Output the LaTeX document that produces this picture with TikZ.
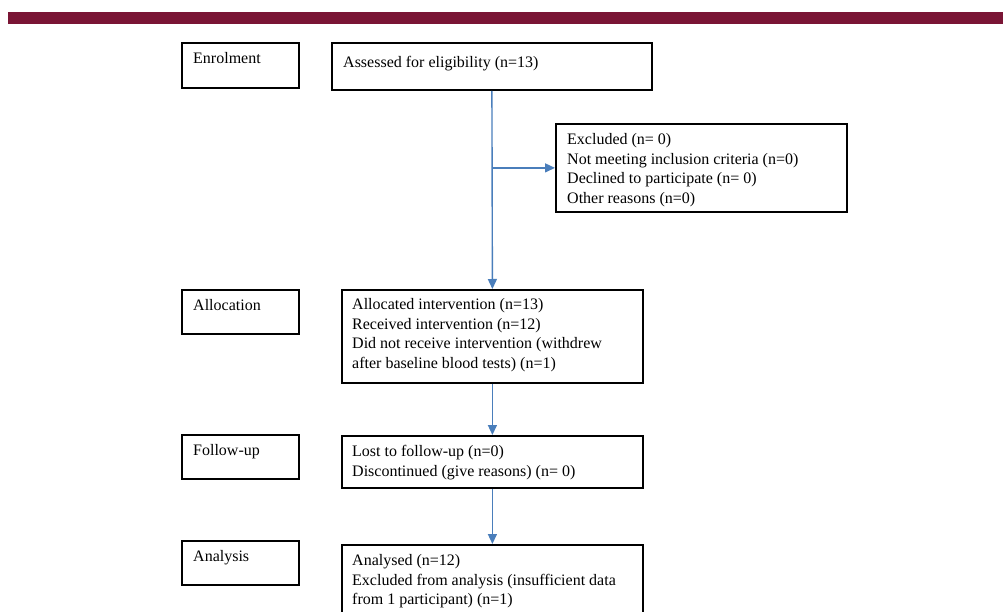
\documentclass[tikz,border=0pt]{standalone}
\usepackage{fontspec}
\setmainfont{Liberation Serif}
\usetikzlibrary{arrows.meta}
\definecolor{barred}{HTML}{7A1535}
\definecolor{arrowblue}{HTML}{4A7EBB}
\begin{document}
\begin{tikzpicture}[x=1pt,y=-1pt,
  box/.style={draw=black, line width=1.8pt, rectangle, inner sep=0pt, anchor=north west},
  txt/.style={anchor=north west, inner sep=0pt, align=left, font=\fontsize{16}{19.5}\selectfont},
  flow/.style={draw=arrowblue, line width=1.4pt, -{Triangle[width=9pt,length=10pt]}}]
\useasboundingbox (0,0) rectangle (1003,612);
\clip (0,0) rectangle (1003,612);
\fill[barred] (8,12) rectangle (1003,24);
% left stage boxes
\node[box, minimum width=117pt, minimum height=45pt] (enr) at (181,42) {};
\node[box, minimum width=117pt, minimum height=44pt] (allocL) at (181,289) {};
\node[box, minimum width=117pt, minimum height=44pt] (follL) at (181,434) {};
\node[box, minimum width=117pt, minimum height=44pt] (anaL) at (181,540) {};
% main boxes
\node[box, minimum width=320pt, minimum height=47pt] (assess) at (331,42) {};
\node[box, minimum width=291pt, minimum height=88pt] (excl) at (555,123) {};
\node[box, minimum width=301pt, minimum height=93pt] (alloc) at (341,289) {};
\node[box, minimum width=301pt, minimum height=52pt] (foll) at (341,435) {};
\node[box, minimum width=301pt, minimum height=90pt] (ana) at (341,544) {};
% texts
\node[txt] (enrT) at (193,52.5) {Enrolment};
\node[txt] (allocLT) at (193,299.5) {Allocation};
\node[txt] (follLT) at (193,444.5) {Follow-up};
\node[txt] (anaLT) at (193,550.5) {Analysis};
\node[txt] (assessT) at (343,56.5) {Assessed for eligibility (n=13)};
\node[txt] (exclT) at (567,133.5) {Excluded (n= 0)\\Not meeting inclusion criteria (n=0)\\Declined to participate (n= 0)\\Other reasons (n=0)};
\node[txt] (allocT) at (352,298.5) {Allocated intervention (n=13)\\Received intervention (n=12)\\Did not receive intervention (withdrew\\after baseline blood tests) (n=1)};
\node[txt] (follT) at (352,445.5) {Lost to follow-up (n=0)\\Discontinued (give reasons) (n= 0)};
\node[txt] (anaT) at (352,554.5) {Analysed (n=12)\\Excluded from analysis (insufficient data\\from 1 participant) (n=1)};
% connectors
\draw[flow] (assess.south) -- (alloc.north);
\coordinate (br) at (assess.south |- excl.west);
\draw[flow] (br) -- (excl.west);
\draw[flow] (alloc.south) -- (foll.north);
\draw[flow] (foll.south) -- (ana.north);
\end{tikzpicture}
\end{document}
